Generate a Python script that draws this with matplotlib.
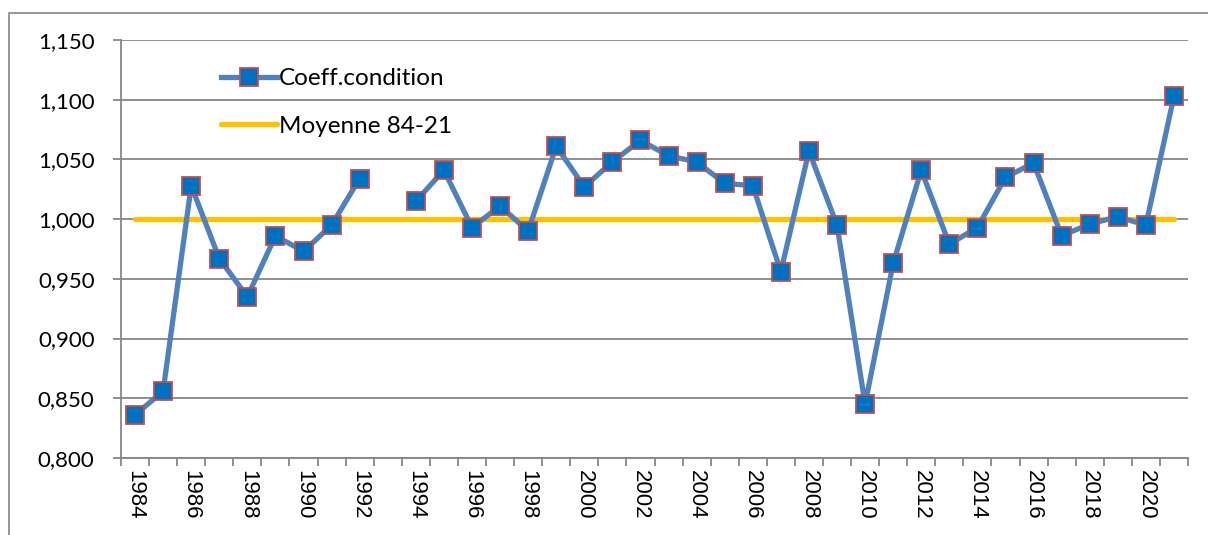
import numpy as np
import matplotlib.pyplot as plt
from matplotlib.patches import Rectangle
from matplotlib.ticker import FuncFormatter

years = list(range(1984, 2022))
coeff = [0.836, 0.856, 1.028, 0.967, 0.935, 0.986, 0.973, 0.995, 1.034, np.nan,
         1.015, 1.041, 0.993, 1.011, 0.990, 1.061, 1.027, 1.048, 1.066, 1.053,
         1.048, 1.030, 1.028, 0.956, 1.057, 0.995, 0.845, 0.963, 1.041, 0.979,
         0.993, 1.035, 1.047, 0.986, 0.996, 1.002, 0.995, 1.103]
moyenne = [1.000] * len(years)

grey = "#868686"
fig = plt.figure(figsize=(12.08, 5.35), dpi=100)
# outer chart border
fig.patches.append(Rectangle((9 / 1208, -0.1), 1.2, 1 - 13 / 535 + 0.1,
                             transform=fig.transFigure, fill=False,
                             edgecolor=grey, linewidth=1.2))
ax = fig.add_axes([121 / 1208, 1 - 458 / 535, (1188 - 121) / 1208, (458 - 40) / 535])

x = np.arange(len(years))
ax.plot(x, coeff, color="#4F81BD", linewidth=3.8, marker="s", markersize=13.5,
        markerfacecolor="#0070C0", markeredgecolor="#C0504D", markeredgewidth=1.3,
        label="Coeff.condition", zorder=3)
ax.plot(x, moyenne, color="#FFC000", linewidth=3.8, label="Moyenne 84-21",
        solid_capstyle="round", zorder=2)

ax.set_xlim(-0.5, len(years) - 0.5)
ax.set_ylim(0.8, 1.15)
ax.set_yticks(np.arange(0.8, 1.151, 0.05))
ax.yaxis.set_major_formatter(FuncFormatter(lambda v, p: f"{v:.3f}".replace(".", ",")))
ax.grid(axis="y", color=grey, linewidth=1.3)
ax.set_axisbelow(True)

ax.set_xticks(x[::2])
ax.set_xticklabels([str(y) for y in years[::2]], rotation=270,
                   fontfamily="Liberation Sans", fontsize=16)
ax.set_xticks(np.arange(-0.5, len(years), 1), minor=True)
ax.tick_params(axis="x", which="major", length=0, pad=9)
ax.tick_params(axis="x", which="minor", length=6, color=grey, width=1.3)
ax.tick_params(axis="y", length=6, color=grey, width=1.3, labelsize=16, pad=13)
for lab in ax.get_yticklabels():
    lab.set_fontfamily("Lato")

for s in ["top", "right"]:
    ax.spines[s].set_visible(False)
for s in ["left", "bottom"]:
    ax.spines[s].set_color(grey)
    ax.spines[s].set_linewidth(1.3)

leg = ax.legend(loc="upper left", bbox_to_anchor=(0.073, 0.985), frameon=False,
                prop={"family": "Lato", "size": 17.5}, handlelength=2.3,
                labelspacing=1.1, handletextpad=0.1)

fig.savefig("out.png", dpi=100)
